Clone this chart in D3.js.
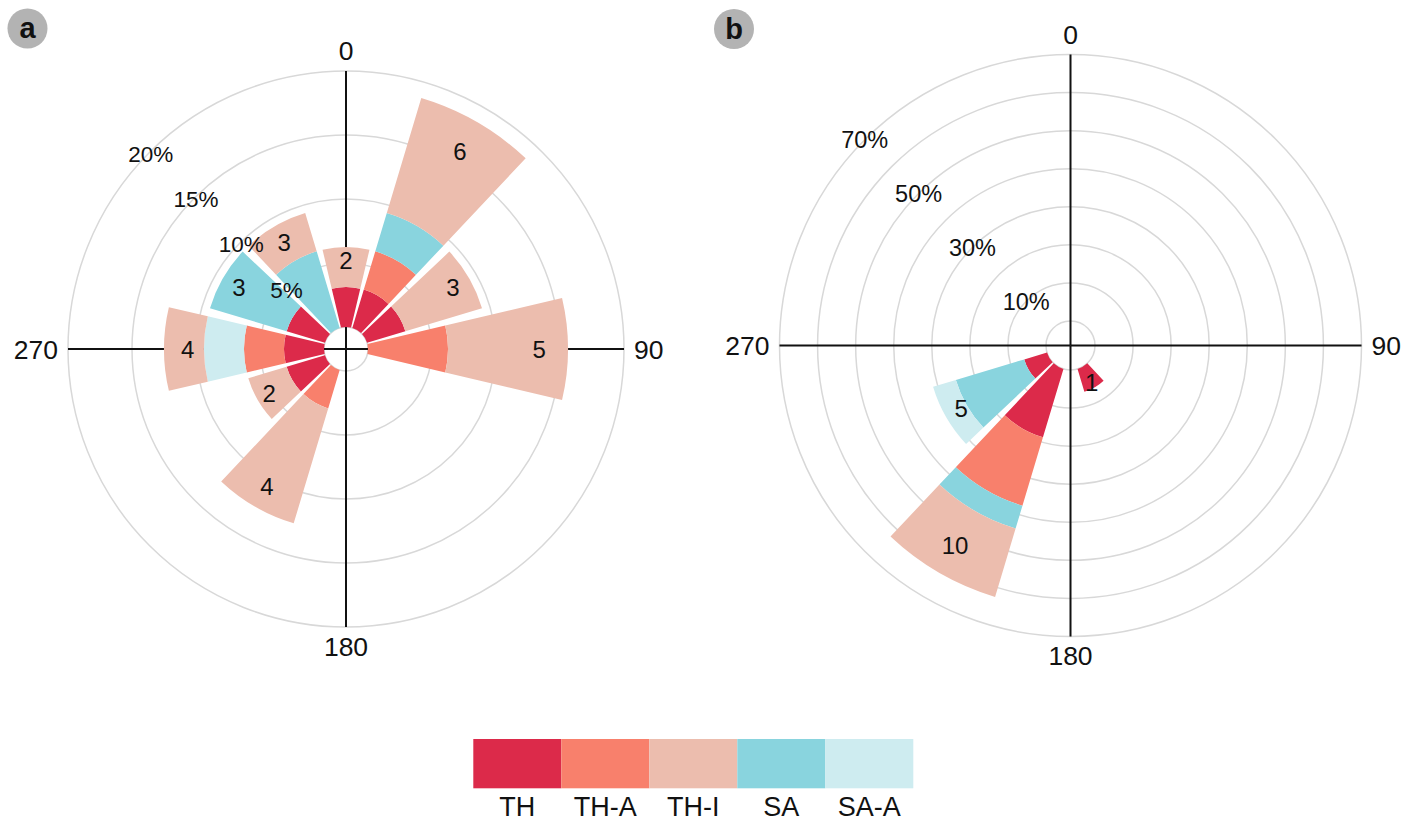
<!DOCTYPE html>
<html>
<head>
<meta charset="utf-8">
<script src="https://cdn.jsdelivr.net/npm/d3@7"></script>
<style>
html,body{margin:0;padding:0;background:#fff;}
svg{display:block;font-family:"Liberation Sans",Arial,Helvetica,sans-serif;}
</style>
</head>
<body>
<svg id="chart" width="1414" height="824"></svg>
<script>
// ---------------- data ----------------
const categories = ["TH", "TH-A", "TH-I", "SA", "SA-A"];
const stackOrder = ["TH", "TH-A", "SA", "SA-A", "TH-I"];
const colors = ["#dc2a4a", "#f8806c", "#ecbdae", "#89d4de", "#ceecf0"];

// panel a: direction bins (deg) and counts per category
const dirsA   = [0, 30, 60, 90, 210, 240, 270, 300, 330];
const aTH     = [1, 1, 1, 0, 0, 1, 1, 1, 0];
const aTHA    = [0, 1, 0, 2, 1, 0, 1, 0, 0];
const aTHI    = [1, 3, 2, 3, 3, 1, 1, 0, 1];
const aSA     = [0, 1, 0, 0, 0, 0, 0, 2, 2];
const aSAA    = [0, 0, 0, 0, 0, 0, 1, 0, 0];
const ringsA  = [5, 10, 15, 20];
const ringLabelsA = ["5%", "10%", "15%", "20%"];

// panel b
const dirsB   = [150, 210, 240];
const bTH     = [1, 3, 1];
const bTHA    = [0, 3, 0];
const bTHI    = [0, 3, 0];
const bSA     = [0, 1, 3];
const bSAA    = [0, 0, 1];
const ringsB  = [10, 20, 30, 40, 50, 60, 70];
const ringLabelTicksB = [10, 30, 50, 70];
const ringLabelsB = ["10%", "30%", "50%", "70%"];

const axisAngles = [0, 90, 180, 270];
const axisLabels = ["0", "90", "180", "270"];

// ---------------- drawing ----------------
const svg = d3.select("#chart");
const color = d3.scaleOrdinal().domain(categories).range(colors);
const rad = d => d * Math.PI / 180;

function drawPanel(cfg) {
  const g = svg.append("g").attr("transform", `translate(${cfg.cx},${cfg.cy})`);
  const r = d3.scaleLinear().domain([0, cfg.maxPct]).range([cfg.r0, cfg.r1]);
  const R = cfg.r1;

  // rings (hole + ticks)
  g.selectAll("circle.ring").data([0].concat(cfg.rings)).enter().append("circle")
    .attr("r", d => r(d)).attr("fill", "none")
    .attr("stroke", "#d8d8d8").attr("stroke-width", 1.5);

  // axes
  g.selectAll("line.ax").data(axisAngles).enter().append("line")
    .attr("x1", 0).attr("y1", 0)
    .attr("x2", d => R * Math.sin(rad(d)))
    .attr("y2", d => -R * Math.cos(rad(d)))
    .attr("stroke", "#111").attr("stroke-width", 2);

  // stacked data (percent of all counts in the panel)
  const total = d3.sum(Object.values(cfg.series).flat());
  const rows = cfg.dirs.map((dir, i) => {
    const row = { dir };
    categories.forEach(c => row[c] = cfg.series[c][i] / total * 100);
    return row;
  });
  const stack = d3.stack().keys(stackOrder)(rows);
  const half = 13.3;
  const arc = d3.arc();

  stack.forEach(layer => {
    g.selectAll(null).data(layer.filter(d => d[1] - d[0] > 0)).enter().append("path")
      .attr("d", d => arc({
        innerRadius: r(d[0]), outerRadius: r(d[1]),
        startAngle: rad(d.data.dir - half), endAngle: rad(d.data.dir + half)
      }))
      .attr("fill", color(layer.key));
  });

  // ring labels
  g.selectAll("text.rl").data(cfg.ringLabelTicks).enter().append("text")
    .attr("x", d => (r(d) + cfg.rlOff) * Math.sin(rad(315)))
    .attr("y", d => -(r(d) + cfg.rlOff) * Math.cos(rad(315)))
    .attr("text-anchor", "middle").attr("dy", "0.36em")
    .attr("font-size", cfg.rlSize).attr("fill", "#111")
    .text((d, i) => cfg.ringLabels[i]);

  // bar total labels
  const totals = cfg.dirs.map((dir, i) => ({ dir, n: d3.sum(categories, c => cfg.series[c][i]) }));
  const lr = d => r(d.n / total * 100) * cfg.labelFactor;
  g.selectAll("text.bl").data(totals).enter().append("text")
    .attr("x", d => lr(d) * Math.sin(rad(d.dir)))
    .attr("y", d => -lr(d) * Math.cos(rad(d.dir)))
    .attr("text-anchor", "middle").attr("dy", "0.36em")
    .attr("font-size", 24).attr("fill", "#111")
    .text(d => d.n);

  // axis labels
  const fs = 26.5, cap = 0.716 * fs;
  const pos = {
    0:   { x: 0, y: -R - 11, a: "middle" },
    90:  { x: R + 10, y: cap / 2, a: "start" },
    180: { x: 0, y: R + 10 + cap, a: "middle" },
    270: { x: -R - 10, y: cap / 2, a: "end" }
  };
  g.selectAll("text.al").data(axisAngles).enter().append("text")
    .attr("x", d => pos[d].x).attr("y", d => pos[d].y)
    .attr("text-anchor", d => pos[d].a)
    .attr("font-size", fs).attr("fill", "#111")
    .text((d, i) => axisLabels[i]);

  // badge
  const b = svg.append("g").attr("transform", `translate(${cfg.bx},${cfg.by})`);
  b.append("circle").attr("r", 20).attr("fill", "#b3b3b3");
  b.append("text").attr("text-anchor", "middle").attr("dy", "0.33em")
    .attr("font-size", 29).attr("font-weight", "bold").attr("fill", "#111")
    .text(cfg.letter);
}

drawPanel({
  cx: 346, cy: 349, r0: 22, r1: 278, maxPct: 20,
  dirs: dirsA,
  series: { "TH": aTH, "TH-A": aTHA, "TH-I": aTHI, "SA": aSA, "SA-A": aSAA },
  rings: ringsA, ringLabelTicks: ringsA, ringLabels: ringLabelsA, rlOff: -2, rlSize: 22.5,
  labelFactor: 0.87, letter: "a", bx: 27.5, by: 28.5
});

drawPanel({
  cx: 1070.5, cy: 345.5, r0: 24.5, r1: 291, maxPct: 70,
  dirs: dirsB,
  series: { "TH": bTH, "TH-A": bTHA, "TH-I": bTHI, "SA": bSA, "SA-A": bSAA },
  rings: ringsB, ringLabelTicks: ringLabelTicksB, ringLabels: ringLabelsB, rlOff: 0, rlSize: 23.5,
  labelFactor: 0.88, letter: "b", bx: 734, by: 29
});

// legend
const lx = d3.scaleBand().domain(categories).range([473.3, 913.3]);
const leg = svg.append("g");
leg.selectAll("rect").data(categories).enter().append("rect")
  .attr("x", d => lx(d)).attr("y", 739)
  .attr("width", lx.bandwidth()).attr("height", 49.3)
  .attr("fill", d => color(d));
leg.selectAll("text").data(categories).enter().append("text")
  .attr("x", d => lx(d) + lx.bandwidth() / 2).attr("y", 816)
  .attr("text-anchor", "middle").attr("font-size", 27).attr("fill", "#111")
  .text(d => d);
</script>
</body>
</html>
